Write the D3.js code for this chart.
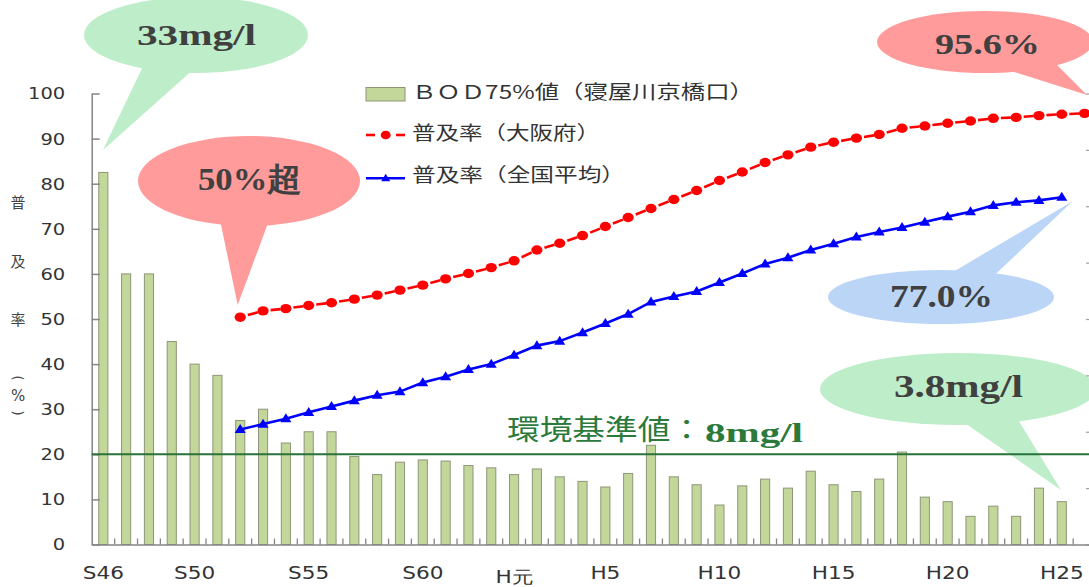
<!DOCTYPE html>
<html>
<head>
<meta charset="utf-8">
<script src="https://cdn.jsdelivr.net/npm/d3@7"></script>
<style>
  body { margin: 0; background: #fff; }
  svg { display: block; }
</style>
</head>
<body>
<svg id="chart" width="1089" height="587"></svg>
<script>
// fiscal years, Showa 46 .. Heisei 26 (the last slot only carries the Osaka rate)
const categories = ['S46', 'S47', 'S48', 'S49', 'S50', 'S51', 'S52', 'S53', 'S54', 'S55',
    'S56', 'S57', 'S58', 'S59', 'S60', 'S61', 'S62', 'S63', 'H元', 'H2', 'H3', 'H4', 'H5',
    'H6', 'H7', 'H8', 'H9', 'H10', 'H11', 'H12', 'H13', 'H14', 'H15', 'H16', 'H17', 'H18',
    'H19', 'H20', 'H21', 'H22', 'H23', 'H24', 'H25', 'H26'];
const xTickLabels = ['S46', 'S50', 'S55', 'S60', 'H元', 'H5', 'H10', 'H15', 'H20', 'H25'];
const yTicks = [0, 10, 20, 30, 40, 50, 60, 70, 80, 90, 100];
const bodTicks = [0, 5, 10, 15, 20, 25, 30, 35, 40];

// BOD 75% value at Kyobashi-guchi (mg/l), S46 .. H25
const bodValues = [33, 24, 24, 18, 16, 15, 11, 12, 9, 10, 10, 7.8, 6.2, 7.3, 7.5, 7.4, 7.0, 6.8,
    6.2, 6.7, 6.0, 5.6, 5.1, 6.3, 8.8, 6.0, 5.3, 3.5, 5.2, 5.8, 5.0, 6.5, 5.3, 4.7, 5.8, 8.2,
    4.2, 3.8, 2.5, 3.4, 2.5, 5.0, 3.8];
// sewerage coverage (%), both series start at S52
const lineStart = 'S52';
const osakaRate = [50.4, 51.8, 52.3, 53.0, 53.6, 54.4, 55.3, 56.4, 57.5, 58.9, 60.1, 61.4,
    62.9, 65.3, 66.8, 68.5, 70.5, 72.5, 74.5, 76.5, 78.5, 80.7, 82.6, 84.7, 86.4, 88.1, 89.2,
    90.1, 90.9, 92.3, 92.8, 93.4, 93.9, 94.5, 94.7, 95.1, 95.4, 95.6];
const nationalRate = [25.5, 26.7, 27.9, 29.3, 30.6, 31.9, 33.1, 33.9, 35.9, 37.2, 38.8, 40.0,
    42.0, 44.1, 45.1, 47.0, 49.0, 51.1, 53.8, 55.0, 56.1, 58.1, 60.1, 62.2, 63.6, 65.3, 66.7,
    68.2, 69.3, 70.3, 71.5, 72.7, 73.8, 75.2, 75.9, 76.3, 77.0];
const bodStandard = 8;

const legendLabels = ['ＢＯＤ75%値（寝屋川京橋口）', '普及率（大阪府）', '普及率（全国平均）'];
const yTitleChars = ['普', '及', '率', '(', '%', ')'];

const svg = d3.select('#chart');
const serif = '"Liberation Serif", "DejaVu Serif", serif';
const cjk = '"Noto Sans CJK JP", "Noto Sans", sans-serif';
const sans = '"DejaVu Sans", Verdana, sans-serif';

const x = d3.scaleBand().domain(categories).range([91.9, 1096])
    .paddingInner(0.6).paddingOuter(0.3);
const y = d3.scaleLinear().domain([0, 100]).range([544.5, 93.5]);
const yBod = d3.scaleLinear().domain([0, 40]).range([544.5, 93.5]);
const cx = c => x(c) + x.bandwidth() / 2;

// speech bubbles (drawn first, everything else sits on top)
const bubbles = [
    { fill: '#bdedc9', ell: [196, 35, 112, 38], tail: [[146, 60], [204, 60], [103, 150]] },
    { fill: '#ff9b9b', ell: [249, 181, 111, 45], tail: [[219, 215], [271, 215], [237.7, 305]] },
    { fill: '#ff9b9b', ell: [985, 42, 108, 31], tail: [[976, 60], [1050, 58], [1087, 95]] },
    { fill: '#bad5f6', ell: [941, 297, 113, 27], tail: [[931, 285], [984, 285], [1073, 201]] },
    { fill: '#bdedc9', ell: [958, 389, 138, 36], tail: [[946, 410], [1012, 410], [1061, 490]] }
];
const bg = svg.append('g');
bubbles.forEach(b => {
    bg.append('ellipse').attr('cx', b.ell[0]).attr('cy', b.ell[1])
        .attr('rx', b.ell[2]).attr('ry', b.ell[3]).attr('fill', b.fill);
    bg.append('path').attr('d', 'M' + b.tail.join('L') + 'Z').attr('fill', b.fill);
});

// BOD bars
svg.append('g').selectAll('rect')
    .data(bodValues)
    .join('rect')
    .attr('x', (d, i) => x(categories[i]))
    .attr('y', d => yBod(d))
    .attr('width', x.bandwidth())
    .attr('height', d => yBod(0) - yBod(d))
    .attr('fill', '#c4d79b')
    .attr('stroke', '#8d9679')
    .attr('stroke-width', 1);

// left axis
const yAxis = svg.append('g').attr('transform', 'translate(91.7,0)')
    .call(d3.axisLeft(y).tickValues(yTicks).tickSize(-8).tickSizeOuter(0));
yAxis.select('.domain').attr('stroke', '#858585').attr('stroke-width', 1.5);
yAxis.selectAll('.tick line').attr('stroke', '#858585').attr('stroke-width', 1.5);
yAxis.selectAll('.tick text')
    .attr('x', null).attr('dy', '0.36em')
    .attr('transform', 'translate(-26.5,0) scale(1.3,1)')
    .attr('fill', '#333').attr('font-size', 15).attr('font-family', sans);

// right (BOD) axis, only its ticks fall inside the picture
const rAxis = svg.append('g').attr('transform', 'translate(1091,0)')
    .call(d3.axisLeft(yBod).tickValues(bodTicks).tickSize(5).tickSizeOuter(0).tickFormat(''));
rAxis.selectAll('line, path').attr('stroke', '#a0a0a0').attr('stroke-width', 1.2);

// bottom axis
const xAxis = svg.append('g').attr('transform', 'translate(0,544.5)')
    .call(d3.axisBottom(x).tickValues(xTickLabels).tickSize(0).tickSizeOuter(0));
xAxis.select('.domain').attr('stroke', '#858585').attr('stroke-width', 1.5);
xAxis.selectAll('.tick text')
    .attr('y', null).attr('dy', null)
    .attr('transform', d => `translate(0,${d === 'H元' ? 38.5 : 34.8}) scale(1.27,1)`)
    .attr('fill', '#333').attr('font-size', 17).attr('font-family', sans);
svg.append('g').selectAll('line')
    .data(categories)
    .join('line')
    .attr('x1', d => x(d) + x.bandwidth() + (x.step() - x.bandwidth()) / 2)
    .attr('x2', d => x(d) + x.bandwidth() + (x.step() - x.bandwidth()) / 2)
    .attr('y1', y(0)).attr('y2', y(0) - 6)
    .attr('stroke', '#858585').attr('stroke-width', 1.3);

// environmental standard line (8 mg/l)
svg.append('line')
    .attr('x1', 91.7).attr('x2', 1089)
    .attr('y1', yBod(bodStandard)).attr('y2', yBod(bodStandard))
    .attr('stroke', '#27733a').attr('stroke-width', 2);

// coverage lines
const s0 = categories.indexOf(lineStart);
const osakaPts = osakaRate.map((v, i) => [cx(categories[s0 + i]), y(v)]);
const nationalPts = nationalRate.map((v, i) => [cx(categories[s0 + i]), y(v)]);

svg.append('g').selectAll('line')
    .data(d3.pairs(osakaPts))
    .join('line')
    .attr('x1', ([a, b]) => a[0] + 0.33 * (b[0] - a[0]))
    .attr('y1', ([a, b]) => a[1] + 0.33 * (b[1] - a[1]))
    .attr('x2', ([a, b]) => a[0] + 0.77 * (b[0] - a[0]))
    .attr('y2', ([a, b]) => a[1] + 0.77 * (b[1] - a[1]))
    .attr('stroke', '#ff0000').attr('stroke-width', 2.6);
svg.append('g').selectAll('ellipse')
    .data(osakaPts)
    .join('ellipse')
    .attr('cx', d => d[0]).attr('cy', d => d[1])
    .attr('rx', 5.6).attr('ry', 4.7)
    .attr('fill', '#ff0000');

const tri = (px, py, w, h) => `M${px},${py - h * 0.6}L${px + w / 2},${py + h * 0.4}L${px - w / 2},${py + h * 0.4}Z`;
svg.append('path')
    .attr('d', d3.line()(nationalPts))
    .attr('fill', 'none').attr('stroke', '#0000ff').attr('stroke-width', 2.6);
svg.append('g').selectAll('path')
    .data(nationalPts)
    .join('path')
    .attr('d', d => tri(d[0], d[1], 11, 9))
    .attr('fill', '#0000ff');

// legend
const lg = svg.append('g');
lg.append('rect').attr('x', 366).attr('y', 87.5).attr('width', 39).attr('height', 13.5)
    .attr('fill', '#c4d79b').attr('stroke', '#8d9679');
lg.append('line').attr('x1', 366).attr('x2', 375).attr('y1', 135).attr('y2', 135)
    .attr('stroke', '#ff0000').attr('stroke-width', 2.6);
lg.append('line').attr('x1', 396).attr('x2', 405).attr('y1', 135).attr('y2', 135)
    .attr('stroke', '#ff0000').attr('stroke-width', 2.6);
lg.append('ellipse').attr('cx', 385.7).attr('cy', 135).attr('rx', 5).attr('ry', 4.3).attr('fill', '#ff0000');
lg.append('line').attr('x1', 366).attr('x2', 405).attr('y1', 178.3).attr('y2', 178.3)
    .attr('stroke', '#0000ff').attr('stroke-width', 2.4);
lg.append('path').attr('d', tri(385.7, 178.3, 9, 7.5)).attr('fill', '#0000ff');

const legendY = [91.7, 133.3, 175];
const legendW = [342, 188, 213];
lg.selectAll('text')
    .data(legendLabels)
    .join('text')
    .attr('x', 412).attr('y', (d, i) => legendY[i]).attr('dy', '0.36em')
    .attr('textLength', (d, i) => legendW[i]).attr('lengthAdjust', 'spacingAndGlyphs')
    .attr('font-family', cjk).attr('font-size', 19).attr('fill', '#333')
    .text(d => d);

// vertical axis title (the brackets are turned upright, as in vertical writing)
const yTitleY = [203, 262, 320, 378, 396, 413];
svg.append('g').selectAll('text')
    .data(yTitleChars)
    .join('text')
    .attr('transform', (d, i) => `translate(18,${yTitleY[i]})` + (d === '(' || d === ')' ? ' rotate(90)' : ''))
    .attr('dy', '0.36em')
    .attr('text-anchor', 'middle')
    .attr('font-family', (d, i) => i > 2 ? sans : cjk)
    .attr('font-size', (d, i) => i === 4 ? 15 : (i > 2 ? 14 : 15))
    .attr('fill', '#444')
    .text(d => d);

// bubble and standard texts
const notes = [
    { t: '33mg/l', x: 137, y: 45, w: 119, s: 30, f: serif, c: '#404040', b: 'bold' },
    { t: '50%超', x: 198, y: 190, w: 104, s: 32, f: serif, c: '#404040', b: 'bold' },
    { t: '95.6%', x: 935, y: 54, w: 105, s: 30, f: serif, c: '#404040', b: 'bold' },
    { t: '77.0%', x: 890, y: 306.7, w: 103, s: 32, f: serif, c: '#404040', b: 'bold' },
    { t: '3.8mg/l', x: 894, y: 397, w: 129, s: 31, f: serif, c: '#404040', b: 'bold' },
    { t: '環境基準値：', x: 507, y: 439.5, w: 196, s: 28, f: cjk, c: '#2b7a3b', b: 'normal' },
    { t: '8mg/l', x: 705, y: 442, w: 98, s: 27, f: serif, c: '#2b7a3b', b: 'bold' }
];
svg.append('g').selectAll('text')
    .data(notes)
    .join('text')
    .attr('x', d => d.x).attr('y', d => d.y)
    .attr('textLength', d => d.w).attr('lengthAdjust', 'spacingAndGlyphs')
    .attr('font-family', d => d.f).attr('font-size', d => d.s)
    .attr('font-weight', d => d.b).attr('fill', d => d.c)
    .text(d => d.t);
</script>
</body>
</html>
